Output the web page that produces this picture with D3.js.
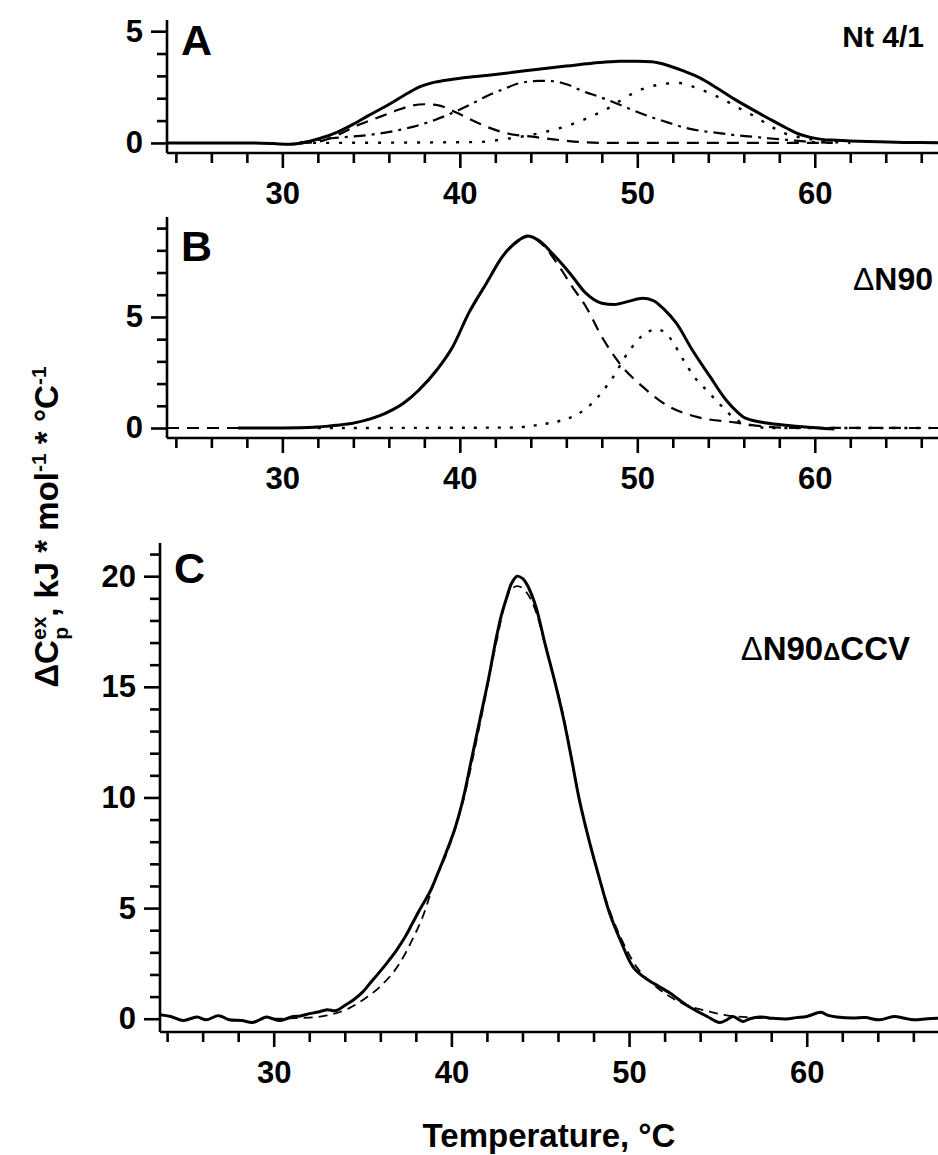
<!DOCTYPE html>
<html>
<head>
<meta charset="utf-8">
<script src="https://cdn.jsdelivr.net/npm/d3@7"></script>
<style>
  html, body { margin: 0; padding: 0; background: #fff; }
  svg { display: block; }
  text { font-family: "Liberation Sans", Arial, sans-serif; font-weight: bold; fill: #000; }
</style>
</head>
<body>
<svg id="chart" width="938" height="1155"></svg>
<script>
// ---- Panel A: Nt 4/1 (total excess heat capacity and three fitted transitions), [°C, kJ/mol/°C]
const ntTotal = [[23.5,0],[28,0],[29.5,-0.03],[30.4,-0.06],[31.3,0.03],[32.1,0.2],[33,0.45],[33.9,0.8],[34.8,1.2],[35.8,1.63],[36.8,2.1],[37.7,2.5],[38.6,2.72],[39.5,2.84],[40.5,2.94],[41.5,3.02],[42.9,3.15],[44.3,3.29],[46,3.44],[47.9,3.6],[49,3.65],[50,3.66],[50.8,3.63],[51.6,3.5],[52.6,3.22],[53.5,2.92],[54.6,2.4],[55.5,1.95],[56.5,1.49],[57.5,1.05],[58.4,0.67],[59.1,0.4],[59.7,0.26],[60.4,0.16],[61.2,0.12],[63,0.06],[65,0.02],[67.5,0.01]];
const ntPeak1 = [[31,0],[32,0.05],[33,0.32],[34.3,0.81],[35.6,1.2],[36.5,1.47],[37.3,1.67],[38,1.73],[38.8,1.68],[39.8,1.36],[40.6,1.05],[41.5,0.73],[42.6,0.44],[44.1,0.28],[45.6,0.13],[47,0.03],[48.5,0],[61,0]];
const ntPeak2 = [[31,0.02],[32.8,0.21],[34.9,0.36],[36.2,0.52],[37.4,0.73],[38.6,1.03],[39.6,1.35],[40.6,1.72],[41.5,2.09],[42.5,2.42],[43.4,2.68],[44.5,2.78],[45.3,2.76],[46.1,2.6],[46.9,2.33],[47.9,2.05],[48.8,1.78],[49.8,1.45],[50.8,1.15],[51.7,0.92],[52.6,0.7],[53.5,0.55],[54.5,0.45],[55.5,0.35],[56.5,0.28],[57.5,0.2],[58.4,0.14],[59.7,0.05],[61,0]];
const ntPeak3 = [[31,0],[41,0.04],[42.6,0.18],[43.6,0.3],[44.9,0.51],[45.8,0.7],[46.7,0.95],[47.5,1.22],[48.4,1.57],[49.1,1.92],[49.9,2.28],[50.9,2.55],[51.7,2.66],[52.4,2.68],[53.2,2.5],[54.1,2.22],[55,1.88],[55.7,1.57],[56.7,1.15],[57.5,0.75],[58.2,0.46],[59.5,0.2],[60.5,0.08],[62,0]];

// ---- Panel B: ΔN90
const dn90Total = [[27.5,0],[30,0],[32.1,0.05],[33,0.12],[34,0.22],[35,0.42],[35.8,0.66],[36.8,1.1],[37.7,1.71],[38.7,2.61],[39.6,3.66],[40.5,5.17],[41.5,6.52],[42.4,7.72],[43.35,8.47],[43.8,8.65],[44.5,8.42],[45.2,7.87],[46.2,6.97],[47.1,6.07],[48,5.62],[48.7,5.56],[49.5,5.7],[50.3,5.84],[50.9,5.74],[51.5,5.35],[52.2,4.72],[53.1,3.51],[54.1,2.31],[55,1.26],[55.6,0.75],[56.1,0.44],[57.4,0.21],[59.3,0.06],[61.1,-0.05]];
const dn90Peak1 = [[23.5,0],[30,0],[32,0.05],[33,0.12],[34,0.22],[35,0.42],[35.8,0.66],[36.8,1.1],[37.7,1.71],[38.7,2.61],[39.6,3.66],[40.5,5.17],[41.5,6.52],[42.4,7.72],[43.35,8.47],[43.9,8.62],[44.6,8.3],[45.6,7.27],[46.3,6.4],[47.1,5.47],[48,4.11],[49,2.91],[50.3,1.86],[51.8,0.96],[53.3,0.51],[55.6,0.24],[57,0.08],[58.5,0.01],[67.5,0]];
const dn90Peak2 = [[32,0],[43,0.02],[44.5,0.15],[45.8,0.36],[46.6,0.6],[47.4,1.08],[48.1,1.71],[48.8,2.5],[49.2,3.06],[49.8,3.74],[50.6,4.34],[51.1,4.43],[51.6,4.28],[52.1,3.74],[52.6,3.06],[53.2,2.31],[53.9,1.71],[54.6,1.11],[55.6,0.36],[56.5,0.1],[57.5,0],[66.5,0]];

// ---- Panel C: ΔN90ΔCCV (measured trace and single-transition fit)
const ccvMeasured = [[23.6,0.18],[24.2,0.1],[24.9,-0.08],[25.3,0],[25.7,0.08],[26.2,-0.05],[26.9,0.14],[27.5,-0.05],[28.2,-0.08],[28.8,-0.17],[29.2,-0.05],[29.6,0.08],[30.3,-0.08],[31.1,0.1],[31.5,0.12],[32,0.23],[32.5,0.3],[33,0.41],[33.5,0.36],[34,0.6],[34.5,0.86],[35,1.2],[35.4,1.58],[36,2.15],[36.4,2.55],[36.9,3.08],[37.4,3.7],[37.8,4.3],[38.2,4.9],[38.8,5.75],[39.2,6.5],[39.7,7.5],[40.2,8.6],[40.65,9.9],[41.1,11.6],[41.6,13.5],[42.1,15.4],[42.5,17.1],[42.8,18.2],[43.1,19],[43.4,19.7],[43.7,20],[44,19.9],[44.2,19.7],[44.5,19.2],[44.8,18.5],[45.3,16.85],[45.8,15.3],[46.3,13.6],[46.75,11.8],[47.2,9.9],[47.8,7.9],[48.35,6.29],[48.9,4.78],[49.5,3.57],[50.2,2.37],[50.8,1.9],[51.35,1.61],[52.3,1.16],[53.2,0.63],[53.8,0.35],[54.4,0.1],[55.1,-0.17],[55.5,-0.05],[55.85,0.1],[56.4,-0.12],[56.8,0],[57.35,0.08],[58.1,0.02],[58.85,-0.01],[59.4,0.05],[60,0.1],[60.8,0.29],[61.2,0.15],[61.7,0.08],[62.6,0.03],[63.3,0.05],[64.1,-0.05],[64.9,0.1],[65.5,0.02],[66,-0.05],[66.8,0],[67.5,0.03]];
const ccvFit = [[30,0],[32,0.05],[33,0.15],[34.3,0.5],[35.2,0.95],[36,1.46],[37.1,2.52],[37.8,3.57],[38.5,4.85],[39,6.1],[39.7,7.4],[40.65,9.8],[41.6,13.3],[42.5,16.9],[43.2,19.2],[43.7,19.55],[44.2,19.3],[44.8,18.3],[45.3,16.8],[46.3,13.7],[47.2,9.9],[48.35,6.3],[48.9,4.9],[49.5,3.72],[50.4,2.37],[51.3,1.6],[52.2,1.05],[53.2,0.63],[54.5,0.33],[55.5,0.15],[57,0.05],[58,0]];

// ---- Tick values
const xMajorTicks = [30, 40, 50, 60];
const xMinorTicks = [24, 26, 28, 32, 34, 36, 38, 42, 44, 46, 48, 52, 54, 56, 58, 62, 64, 66];
const yMajorA = [0, 5];
const yMinorA = [1, 2, 3, 4];
const yMajorB = [0, 5];
const yMinorB = [1, 2, 3, 4, 6, 7, 8, 9];
const yMajorC = [0, 5, 10, 15, 20];
const yMinorC = d3.range(1, 22).filter(v => v % 5 !== 0);

const svg = d3.select("#chart");

function drawPanel(cfg) {
  const g = svg.append("g");
  const x = d3.scaleLinear().domain(cfg.xDomain).range(cfg.xRange);
  const y = d3.scaleLinear().domain(cfg.yDomain).range(cfg.yRange);
  const yBottom = cfg.yRange[0];
  const xLeft = cfg.xRange[0];

  // x axis: minor then major ticks, with a hand-drawn baseline
  const gx = g.append("g").attr("transform", `translate(0,${yBottom})`);
  gx.append("g").call(d3.axisBottom(x).tickValues(xMinorTicks).tickSize(10).tickFormat(""));
  gx.append("g").call(d3.axisBottom(x).tickValues(xMajorTicks).tickSize(15).tickPadding(14).tickFormat(d3.format("d")));
  gx.selectAll(".domain").remove();
  gx.append("line").attr("x1", xLeft).attr("x2", 938).attr("y1", 0).attr("y2", 0);

  // y axis
  const gy = g.append("g").attr("transform", `translate(${xLeft},0)`);
  gy.append("g").call(d3.axisLeft(y).tickValues(cfg.yMinor).tickSize(10).tickFormat(""));
  gy.append("g").call(d3.axisLeft(y).tickValues(cfg.yMajor).tickSize(16).tickPadding(8).tickFormat(d3.format("d")));
  gy.selectAll(".domain").remove();
  gy.append("line").attr("x1", 0).attr("x2", 0).attr("y1", cfg.yRange[1]).attr("y2", yBottom);

  g.selectAll("line").attr("stroke", "#000").attr("stroke-width", 2.6);
  g.selectAll(".tick text").style("font-size", "31px").attr("fill", "#000");

  // curves
  const line = d3.line().x(d => x(d[0])).y(d => y(d[1]));
  cfg.series.forEach(s => {
    g.append("path")
      .datum(s.data)
      .attr("d", line.curve(s.curve || d3.curveMonotoneX))
      .attr("fill", "none")
      .attr("stroke", "#000")
      .attr("stroke-width", s.width)
      .attr("stroke-dasharray", s.dash || null)
      .attr("stroke-linejoin", "round");
  });

  // panel letter and sample name
  g.append("text").attr("x", xLeft + 14).attr("y", cfg.letterY)
    .style("font-size", "43px").text(cfg.letter);
  const lab = g.append("text").attr("x", cfg.nameX).attr("y", cfg.nameY)
    .attr("text-anchor", "end").style("font-size", cfg.nameSize + "px");
  cfg.name.forEach(part => {
    lab.append("tspan")
      .style("font-size", part.small ? (cfg.nameSize * 0.72) + "px" : null)
      .style("font-weight", part.light ? "normal" : null)
      .text(part.t);
  });
}

drawPanel({
  xDomain: [23.5, 67], xRange: [167, 939],
  yDomain: [-0.45, 5.5], yRange: [153, 20],
  yMajor: yMajorA, yMinor: yMinorA,
  letter: "A", letterY: 55,
  name: [{ t: "Nt 4/1" }], nameX: 924, nameY: 47, nameSize: 30,
  series: [
    { data: ntPeak3, width: 2.4, dash: "3,10" },
    { data: ntPeak2, width: 2.2, dash: "12,6,3,6" },
    { data: ntPeak1, width: 2.2, dash: "12,8" },
    { data: ntTotal, width: 3 }
  ]
});

drawPanel({
  xDomain: [23.5, 67], xRange: [167, 939],
  yDomain: [-0.45, 9.5], yRange: [438, 217],
  yMajor: yMajorB, yMinor: yMinorB,
  letter: "B", letterY: 261,
  name: [{ t: "Δ", light: true }, { t: "N90" }], nameX: 933, nameY: 290, nameSize: 32,
  series: [
    { data: dn90Peak2, width: 2.4, dash: "3,9" },
    { data: dn90Peak1, width: 2.2, dash: "12,8" },
    { data: dn90Total, width: 3 }
  ]
});

drawPanel({
  xDomain: [23.6, 67.5], xRange: [160, 940],
  yDomain: [-0.6, 21.5], yRange: [1032, 543],
  yMajor: yMajorC, yMinor: yMinorC,
  letter: "C", letterY: 583,
  name: [{ t: "Δ", light: true }, { t: "N90" }, { t: "Δ", small: true }, { t: "CCV" }], nameX: 910, nameY: 660, nameSize: 33,
  series: [
    { data: ccvFit, width: 1.8, dash: "9,6" },
    { data: ccvMeasured, width: 3, curve: d3.curveCatmullRom }
  ]
});

// x-axis title
svg.append("text").attr("x", 549).attr("y", 1147).attr("text-anchor", "middle")
  .style("font-size", "33px").text("Temperature, °C");

// y-axis title with sub/superscripts
const yt = svg.append("text")
  .attr("transform", "translate(58,527) rotate(-90)")
  .attr("text-anchor", "middle")
  .style("font-size", "33px");
yt.append("tspan").text("ΔC");
yt.append("tspan").attr("dy", -12).style("font-size", "21px").text("ex");
yt.append("tspan").attr("dx", -23).attr("dy", 22).style("font-size", "21px").text("p");
yt.append("tspan").attr("dx", 10).attr("dy", -10).text(", kJ * mol");
yt.append("tspan").attr("dy", -12).style("font-size", "21px").text("-1");
yt.append("tspan").attr("dy", 12).text(" * °C");
yt.append("tspan").attr("dy", -12).style("font-size", "21px").text("-1");
</script>
</body>
</html>
